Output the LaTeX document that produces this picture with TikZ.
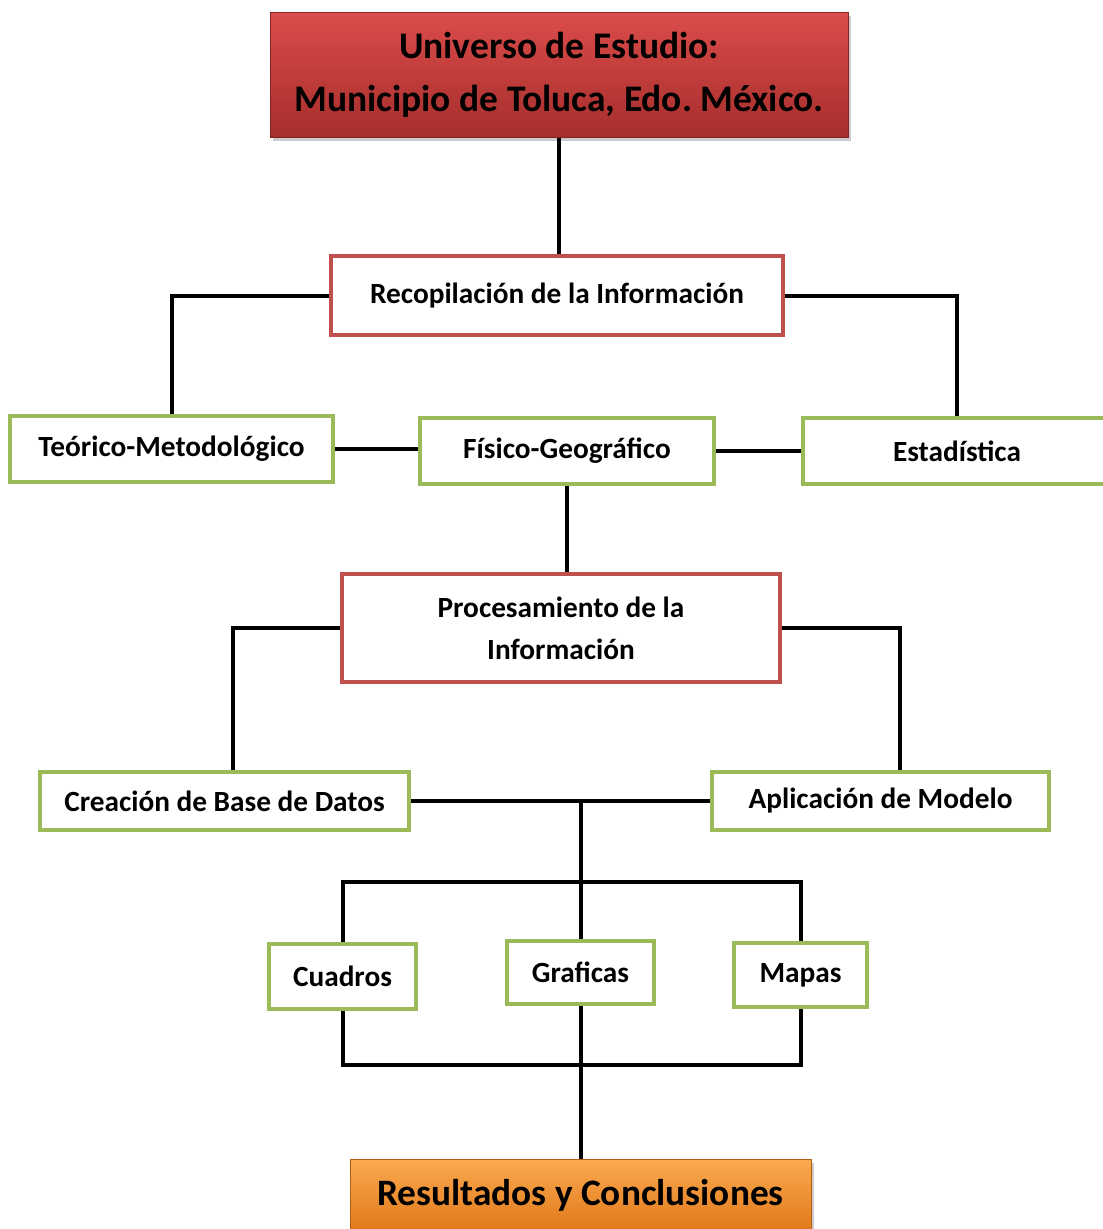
\documentclass[tikz,border=0pt]{standalone}
\usepackage{fontspec}
\setmainfont{Carlito}
\usetikzlibrary{shadows}
\frenchspacing

\definecolor{rojo}{HTML}{C0504D}
\definecolor{verde}{HTML}{9BBB59}
\definecolor{rojoA}{HTML}{DB4C4A}
\definecolor{rojoB}{HTML}{A52E2C}
\definecolor{naranjaA}{HTML}{FBAA50}
\definecolor{naranjaB}{HTML}{E0781A}

\tikzset{
  caja/.style={draw, line width=4pt, fill=white, align=center, inner sep=0pt,
    font=\fontsize{29.3}{42}\selectfont\bfseries},
  cajaroja/.style={caja, draw=rojo},
  cajaverde/.style={caja, draw=verde},
  titulo/.style={draw=rojoB!80!black, line width=1pt, top color=rojoA, bottom color=rojoB,
    drop shadow={opacity=0.4, shadow xshift=3pt, shadow yshift=-4pt},
    align=center, inner sep=0pt, font=\fontsize{37.5}{53}\selectfont\bfseries},
  final/.style={draw=naranjaB!80!black, line width=1pt, top color=naranjaA, bottom color=naranjaB,
    drop shadow={opacity=0.4, shadow xshift=3pt, shadow yshift=-4pt},
    align=center, inner sep=0pt, font=\fontsize{37.3}{44}\selectfont\bfseries},
  linea/.style={line width=4pt, black}
}

\begin{document}
\begin{tikzpicture}[x=1pt, y=-1pt]
  \useasboundingbox (0,0) rectangle (1103,1229);

  % cajas
  \node[titulo, minimum width=578pt, minimum height=125pt] (universo) at (559,74.5)
    {Universo de Estudio:\\Municipio de Toluca, Edo. México.};
  \node[cajaroja, minimum width=452pt, minimum height=79pt] (recop) at (557,295.5)
    {Recopilación de la Información};
  \node[cajaverde, minimum width=323pt, minimum height=66pt] (teorico) at (171.5,449)
    {Teórico-Metodológico};
  \node[cajaverde, minimum width=294pt, minimum height=66pt] (fisico) at (567,451)
    {Físico-Geográfico};
  \node[cajaverde, minimum width=308pt, minimum height=66pt] (estad) at (957,451)
    {Estadística};
  \node[cajaroja, minimum width=438pt, minimum height=108pt] (proc) at (561,628)
    {Procesamiento de la\\Información};
  \node[cajaverde, minimum width=369pt, minimum height=58pt] (base) at (224.5,801)
    {Creación de Base de Datos};
  \node[cajaverde, minimum width=337pt, minimum height=58pt] (modelo) at (880.5,801)
    {Aplicación de Modelo};
  \node[cajaverde, minimum width=147pt, minimum height=65pt] (cuadros) at (342.5,976.5)
    {Cuadros};
  \node[cajaverde, minimum width=147pt, minimum height=63pt] (graficas) at (580.5,972.5)
    {Graficas};
  \node[cajaverde, minimum width=133pt, minimum height=64pt] (mapas) at (800.5,975)
    {Mapas};
  \node[final, minimum width=461pt, minimum height=72pt] (result) at (580.5,1195)
    {Resultados y Conclusiones};

  \coordinate (barra) at (580.5,882);
  \coordinate (barra2) at (580.5,1065);

  % conectores
  \draw[linea] (universo.south) -- (universo.south |- recop.north);
  \draw[linea] (recop.west) -| (teorico.north);
  \draw[linea] (recop.east) -| (estad.north);
  \draw[linea] (teorico.east) -- (teorico.east -| fisico.west);
  \draw[linea] (fisico.east) -- (estad.west);
  \draw[linea] (fisico.south) -- (fisico.south |- proc.north);
  \draw[linea] (proc.west) -| ([xshift=8pt]base.north);
  \draw[linea] (proc.east) -| ([xshift=19pt]modelo.north);
  \draw[linea] (base.east) -- (modelo.west);
  \draw[linea] (graficas.north) -- (graficas.north |- base.east);
  \draw[linea] (cuadros.north) |- (barra) -| (mapas.north);
  \draw[linea] (cuadros.south) |- (barra2) -| (mapas.south);
  \draw[linea] (graficas.south) -- (result.north);
\end{tikzpicture}
\end{document}
